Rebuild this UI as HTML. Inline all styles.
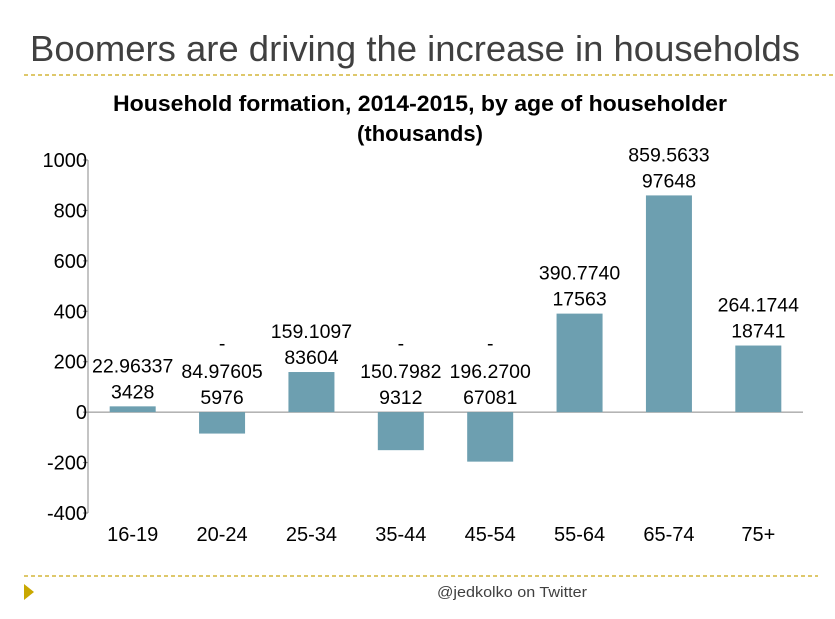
<!DOCTYPE html>
<html><head><meta charset="utf-8">
<style>
body{margin:0;background:#fff;width:835px;height:614px;overflow:hidden;font-family:"Liberation Sans",sans-serif}
</style></head>
<body>
<svg width="835" height="614" font-family="Liberation Sans, sans-serif">
<text x="30" y="61" font-size="36" textLength="770" lengthAdjust="spacingAndGlyphs" fill="#404040">Boomers are driving the increase in households</text>
<line x1="24" y1="75" x2="835" y2="75" stroke="#d4b63a" stroke-width="1.5" stroke-dasharray="4,3"/>
<text x="420" y="111" font-size="22" font-weight="bold" text-anchor="middle" textLength="614" lengthAdjust="spacingAndGlyphs" fill="#000">Household formation, 2014-2015, by age of householder</text>
<text x="420" y="141" font-size="22" font-weight="bold" text-anchor="middle" fill="#000">(thousands)</text>
<g id="chart"></g>
<line x1="24" y1="576" x2="818" y2="576" stroke="#d4b63a" stroke-width="1.5" stroke-dasharray="4,3"/>
<polygon points="24,584 34,592 24,600" fill="#c9a800"/>
<text x="512" y="597" font-size="15" fill="#404040" text-anchor="middle" textLength="150" lengthAdjust="spacingAndGlyphs">@jedkolko on Twitter</text>
</svg>
<script>
const categories=["16-19","20-24","25-34","35-44","45-54","55-64","65-74","75+"];
const values=[22.963373428,-84.976055976,159.109783604,-150.79829312,-196.270067081,390.774017563,859.563397648,264.174418741];
const labelLine1=["22.96337","84.97605","159.1097","150.7982","196.2700","390.7740","859.5633","264.1744"];
const labelLine2=["3428","5976","83604","9312","67081","17563","97648","18741"];
const yTicks=[-400,-200,0,200,400,600,800,1000];
const NS="http://www.w3.org/2000/svg";
const g=document.getElementById('chart');
const x0=88,x1=803,yTop=160,yBot=513,vMin=-400,vMax=1000;
const y=v=>yTop+(vMax-v)/(vMax-vMin)*(yBot-yTop);
const band=(x1-x0)/categories.length;
const xc=i=>x0+band*(i+0.5);
function mk(tag,attrs,txt){const e=document.createElementNS(NS,tag);for(const k in attrs)e.setAttribute(k,attrs[k]);if(txt!==undefined)e.textContent=txt;g.appendChild(e);return e;}
let ax=mk('line',{x1:x0,y1:yTop,x2:x0,y2:yBot,stroke:'#888'});


yTicks.forEach(t=>{
 let tk=mk('line',{x1:x0-5,y1:y(t),x2:x0,y2:y(t),stroke:'#888'});
 
 
 let tl=mk('text',{x:x0-1,y:y(t)+7,'font-size':20,'text-anchor':'end',fill:'#000'},String(t));
 
 
});
let zx=mk('line',{x1:x0,y1:y(0),x2:x1,y2:y(0),stroke:'#888'});


categories.forEach((c,i)=>{
 const v=values[i],bw=46;
 const top=Math.min(y(v),y(0)),h=Math.abs(y(v)-y(0));
 let b=mk('rect',{x:xc(i)-bw/2,y:top,width:bw,height:h,fill:'#6d9fb0'});
 
 
 let xl=mk('text',{x:xc(i),y:y(-400)+28,'font-size':20,'text-anchor':'middle',fill:'#000'},c);
 
 
 const base=v>=0?y(v)-8:y(0)-8;
 let l2=mk('text',{x:xc(i),y:base,'font-size':19.5,'text-anchor':'middle',fill:'#000'},labelLine2[i]);
 
 
 let l1=mk('text',{x:xc(i),y:base-26,'font-size':19.5,'text-anchor':'middle',fill:'#000'},labelLine1[i]);
 
 
 if(v<0){
  let m=mk('text',{x:xc(i),y:base-54,'font-size':19.5,'text-anchor':'middle',fill:'#000'},'-');
  
  
 }
});
</script>
</body></html>
